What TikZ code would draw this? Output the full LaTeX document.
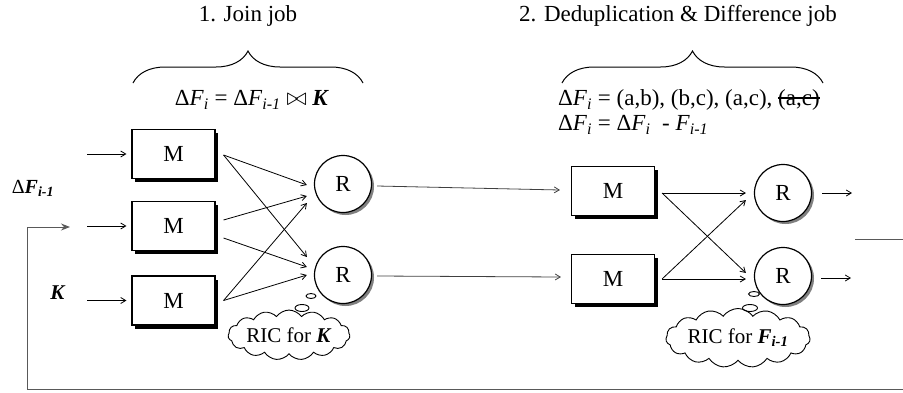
\documentclass[tikz,border=0pt]{standalone}
\usepackage{fontspec}
\setmainfont{Liberation Serif}
\usetikzlibrary{arrows.meta,shadows,shapes.symbols,shapes.geometric,decorations.pathreplacing}
\newcommand\mysub[1]{\textsubscript{#1}}
\newcommand\mystrike[1]{{\setbox0\hbox{#1}\rlap{\raisebox{0.3em}{\rule{\wd0}{0.07em}}}\box0}}
\begin{document}
\begin{tikzpicture}[x=1pt,y=-1pt,
  mbox/.style={draw,line width=1.1pt,fill=white,minimum width=83pt,minimum height=49pt,inner sep=0pt,
     font=\fontsize{23}{26}\selectfont,
     drop shadow={shadow xshift=3pt,shadow yshift=-3.5pt,fill=black,opacity=1}},
  rnode/.style={draw,circle,line width=1.2pt,fill=white,minimum size=57pt,inner sep=0pt,
     font=\fontsize{23}{26}\selectfont,
     drop shadow={shadow xshift=2.5pt,shadow yshift=-2.5pt,fill=black!50,opacity=1}},
  arr/.style={line width=0.8pt,-{Straight Barb[length=5pt,width=6pt]}},
  longline/.style={line width=1pt,draw=black!65},
  bubble/.style={draw,ellipse,line width=0.9pt,inner sep=0pt},
  thought/.style={draw,cloud,cloud puffs=15,cloud puff arc=110,aspect=3.2,line width=0.9pt,inner sep=0pt,
     font=\fontsize{21}{24}\selectfont},
  txt/.style={font=\fontsize{23}{26}\selectfont,inner sep=0pt},
  brc/.style={decorate,decoration={brace,amplitude=32pt,aspect=0.5},line width=1pt}
]
\useasboundingbox (0,0) rectangle (903,392);

% titles
\node[txt] (t1) at (248,16) {1. Join job};
\node[txt] (t2) at (678,16) {2. Deduplication \& Difference job};

% braces
\coordinate (b1l) at (133,83);
\coordinate (b1r) at (363,83);
\coordinate (b2l) at (562,83);
\coordinate (b2r) at (823,83);
\draw[brc] (b1l) -- (b1r);
\draw[brc] (b2l) -- (b2r);

% formulas
\node[txt] (f1) at (252,100) {Δ\textit{F}\mysub{\textit{i}} = Δ\textit{F}\mysub{\textit{i-1}} $\bowtie$ \textbf{\textit{K}}};
\node[txt,anchor=west] (f2) at (558,100) {Δ\textit{F}\mysub{\textit{i}} = (a,b), (b,c), (a,c), \mystrike{(a,c)}};
\node[txt,anchor=west] (f3) at (558,125) {Δ\textit{F}\mysub{\textit{i}} = Δ\textit{F}\mysub{\textit{i}}~ - \textit{F}\mysub{\textit{i-1}}};

% left labels
\node[txt,font=\fontsize{20}{22}\selectfont] (dlab) at (33,188) {Δ\textbf{\textit{F\mysub{i-1}}}};
\node[txt,font=\fontsize{21}{22}\selectfont] (klab) at (58,293) {\textbf{\textit{K}}};

% job 1 nodes
\node[mbox] (M1) at (173.5,154) {M};
\node[mbox] (M2) at (173.5,226) {M};
\node[mbox] (M3) at (173.5,300.5) {M};
\node[rnode] (R1) at (343,184) {R};
\node[rnode] (R2) at (343,275) {R};

% job 2 nodes
\node[mbox] (M4) at (613,191) {M};
\node[mbox] (M5) at (613,279) {M};
\node[rnode] (R3) at (783,193) {R};
\node[rnode] (R4) at (783,276) {R};

% inputs
\coordinate (in1) at (87,154);
\coordinate (in2) at (87,226);
\coordinate (in3) at (87,300.5);
\draw[arr] (in1) -- ([xshift=-5pt]M1.west);
\draw[arr] (in2) -- ([xshift=-5pt]M2.west);
\draw[arr] (in3) -- ([xshift=-5pt]M3.west);

% job 1 shuffle
\draw[arr] ([shift={(8,1)}]M1.east) -- ([shift={(-7,1)}]R1.west);
\draw[arr] ([shift={(8,1)}]M1.east) -- ([shift={(-7,-18)}]R2.west);
\draw[arr] ([shift={(8,-6)}]M2.east) -- ([shift={(-7,12)}]R1.west);
\draw[arr] ([shift={(8,12)}]M2.east) -- ([shift={(-7,-8)}]R2.west);
\draw[arr] ([shift={(8,0)}]M3.east) -- ([shift={(-7,19)}]R1.west);
\draw[arr] ([shift={(8,0)}]M3.east) -- ([shift={(-7,0)}]R2.west);

% job1 -> job2
\draw[arr,draw=black!75] ([shift={(5,2)}]R1.east) -- ([shift={(-11,-1)}]M4.west);
\draw[arr,draw=black!75] ([shift={(5,1)}]R2.east) -- ([shift={(-10,-2)}]M5.west);

% job 2 shuffle
\draw[arr] ([shift={(7,2)}]M4.east) -- ([shift={(-8,0)}]R3.west);
\draw[arr] ([shift={(7,2)}]M4.east) -- ([shift={(-8,-3)}]R4.west);
\draw[arr] ([shift={(7,0)}]M5.east) -- ([shift={(-8,3)}]R4.west);
\draw[arr] ([shift={(7,0)}]M5.east) -- ([shift={(-8,7)}]R3.west);

% outputs
\coordinate (o1) at (852,193);
\coordinate (o2) at (851,278);
\draw[arr] ([xshift=10pt]R3.east) -- (o1);
\draw[arr] ([shift={(9,2)}]R4.east) -- (o2);

% feedback
\coordinate (fb0) at (855,239);
\coordinate (fb1) at (903,239);
\coordinate (fb2) at (903,389);
\coordinate (fb3) at (27,389);
\coordinate (fb4) at (27,227);
\coordinate (fb5) at (70,227);
\draw[longline] (fb0) -- (fb1);
\draw[longline,-{Stealth[length=9pt,width=7pt,inset=3pt]}] (fb2) -- (fb3) -- (fb4) -- (fb5);

% thought clouds
\node[bubble,minimum width=10pt,minimum height=5pt] (s1) at (311,296) {};
\node[bubble,minimum width=14pt,minimum height=7pt] (s2) at (302,308) {};
\node[thought,minimum width=102pt,minimum height=34pt] (c1) at (289,335) {RIC for \textbf{\textit{K}}};
\node[bubble,minimum width=11pt,minimum height=5pt] (s3) at (754,294) {};
\node[bubble,minimum width=15pt,minimum height=7pt] (s4) at (750,308) {};
\node[thought,minimum width=122pt,minimum height=40pt] (c2) at (738,338) {RIC for \textbf{\textit{F\mysub{i-1}}}};
\end{tikzpicture}
\end{document}
